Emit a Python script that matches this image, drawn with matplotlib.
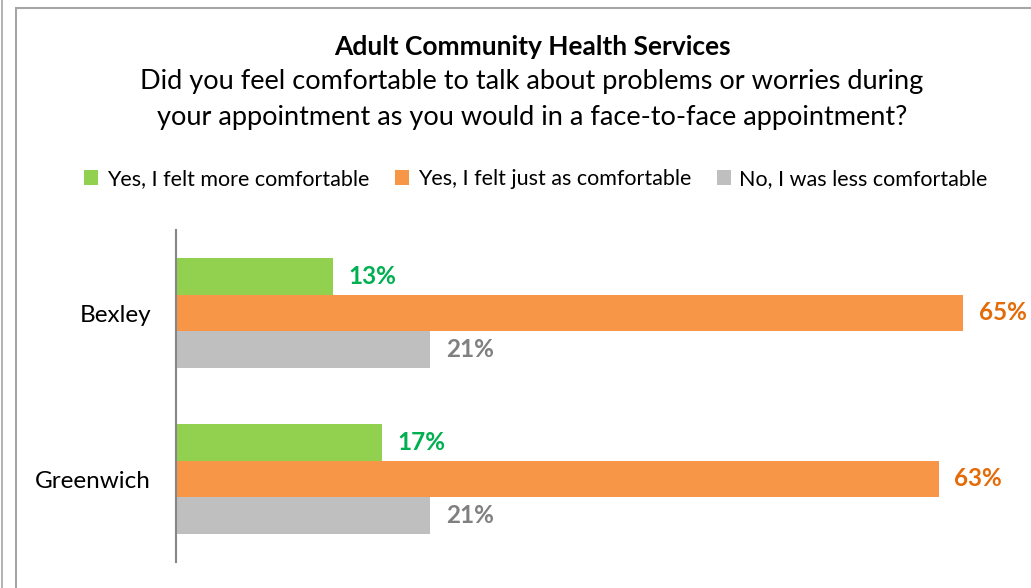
import matplotlib.pyplot as plt
import numpy as np
from matplotlib.lines import Line2D
from matplotlib.patches import Rectangle

# -------------------------------------
# Data
# -------------------------------------

areas = ["Bexley", "Greenwich"]
series_names = [
    "Yes, I felt more comfortable",
    "Yes, I felt just as comfortable",
    "No, I was less comfortable",
]
more_comfortable = [13, 17]
just_as_comfortable = [65, 63]
less_comfortable = [21, 21]

bar_colors = ["#92D050", "#F79646", "#BFBFBF"]
label_colors = ["#00B050", "#E36C09", "#808080"]

# -------------------------------------
# Plotting
# -------------------------------------

plt.rcParams["font.family"] = ["Lato", "DejaVu Sans"]

fig = plt.figure(figsize=(10.31, 5.88), dpi=100)
W, H = 1031, 588

# chart frame
fig.add_artist(Line2D([1.5 / W, 1.5 / W], [0, 1], color="#a6a6a6", lw=1.2))
fig.add_artist(
    Rectangle((15.5 / W, -0.1), 1.2, 1 - 8.5 / H + 0.1, fill=False,
              edgecolor="#a6a6a6", lw=1.5)
)

ax = fig.add_axes([176 / W, 1 - 562 / H, 848 / W, 332 / H])

y = np.arange(len(areas))
h = 0.222
values = [more_comfortable, just_as_comfortable, less_comfortable]
for i, (vals, name) in enumerate(zip(values, series_names)):
    bars = ax.barh(y + (i - 1) * h, vals, height=h, color=bar_colors[i], label=name)
    ax.bar_label(bars, labels=[f"{v}%" for v in vals], padding=11,
                 color=label_colors[i], fontsize=17.5, fontweight="bold")

ax.set_xlim(0, 70)
ax.set_ylim(1.5, -0.5)
ax.set_yticks(y)
ax.set_yticklabels(areas, fontsize=17.5)
ax.tick_params(axis="y", length=0, pad=18)
ax.set_xticks([])
for side in ["top", "right", "bottom"]:
    ax.spines[side].set_visible(False)
ax.spines["left"].set_color("#868686")
ax.spines["left"].set_linewidth(1.5)

fig.text(532 / W, 1 - 47 / H, "Adult Community Health Services",
         ha="center", va="center", fontsize=19, fontweight="bold")
fig.text(532 / W, 1 - 82 / H,
         "Did you feel comfortable to talk about problems or worries during",
         ha="center", va="center", fontsize=19.5)
fig.text(532 / W, 1 - 118 / H,
         "your appointment as you would in a face-to-face appointment?",
         ha="center", va="center", fontsize=19.5)

fig.legend(loc="center", bbox_to_anchor=(536 / W, 1 - 179 / H), ncol=3,
           frameon=False, fontsize=15.5, handlelength=0.65, handleheight=0.65,
           handletextpad=0.4, columnspacing=1.2)

fig.savefig("out.png", dpi=100)
